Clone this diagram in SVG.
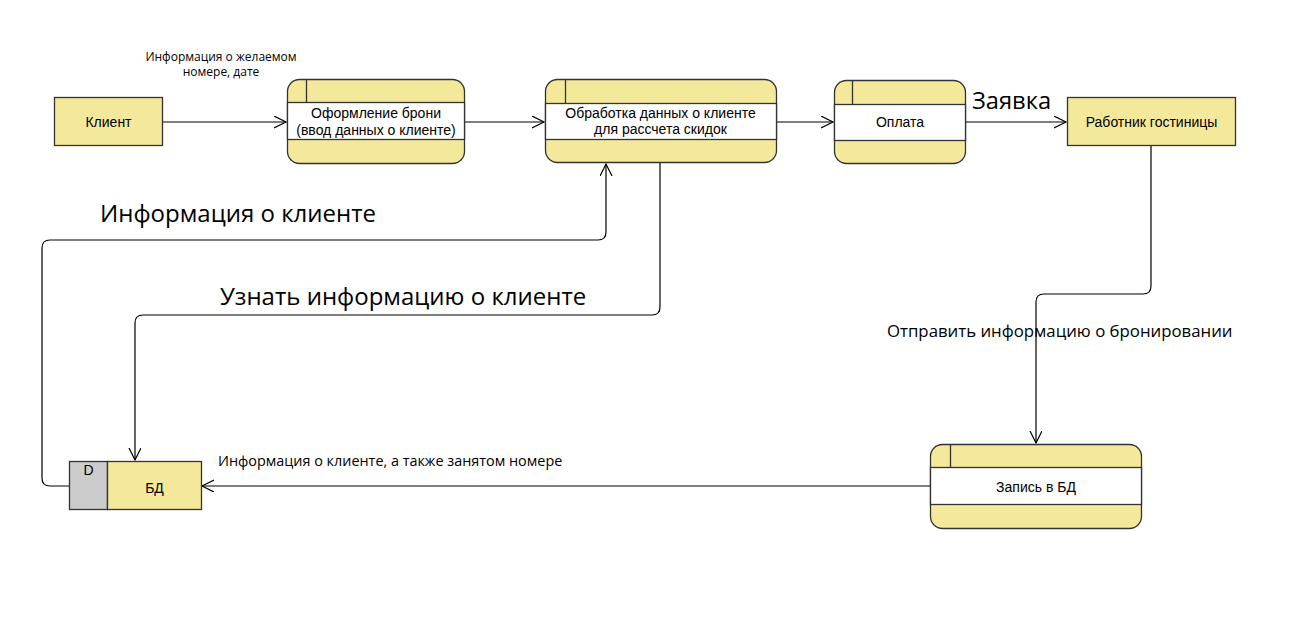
<svg xmlns="http://www.w3.org/2000/svg" width="1298" height="619" viewBox="0 0 1298 619">
<defs>
<style>
.box{fill:#f4e99b;stroke:#333;stroke-width:1.3}
.band{fill:#fff;stroke:#333;stroke-width:1.3}
.ln{fill:none;stroke:#333;stroke-width:1.3}
.nt{font-family:"Liberation Sans",Arial,sans-serif;font-size:14px;fill:#000;text-anchor:middle}
.conn{fill:none;stroke:#000;stroke-width:1.2}
.lb{font-family:"Open Sans","Noto Sans",sans-serif;fill:#000}
</style>
<marker id="open" markerWidth="14" markerHeight="14" refX="12" refY="6" orient="auto" markerUnits="userSpaceOnUse">
<path d="M0,0 L12,6 L0,12" fill="none" stroke="#000" stroke-width="1.2"/>
</marker>
</defs>
<rect width="1298" height="619" fill="#fff"/>

<g id="connectors">
<path class="conn" d="M162,122 H286" marker-end="url(#open)"/>
<path class="conn" d="M464,122 H544" marker-end="url(#open)"/>
<path class="conn" d="M776,122 H833" marker-end="url(#open)"/>
<path class="conn" d="M965,122 H1066" marker-end="url(#open)"/>
<path class="conn" d="M1151,145 V286 Q1151,294 1143,294 H1044 Q1036,294 1036,302 V443" marker-end="url(#open)"/>
<path class="conn" d="M930,486 H202" marker-end="url(#open)"/>
<path class="conn" d="M69,486 H50 Q42,486 42,478 V248 Q42,240 50,240 H598 Q606,240 606,232 V164" marker-end="url(#open)"/>
<path class="conn" d="M660,163 V307 Q660,315 652,315 H143 Q135,315 135,323 V460" marker-end="url(#open)"/>
</g>

<g id="labels">
<text class="lb" x="221" y="61" font-size="12" text-anchor="middle">Информация о желаемом</text>
<text class="lb" x="221" y="76" font-size="12" text-anchor="middle">номере, дате</text>
<text class="lb" x="972" y="109" font-size="23.7">Заявка</text>
<text class="lb" x="100" y="222" font-size="24">Информация о клиенте</text>
<text class="lb" x="220" y="305" font-size="24">Узнать информацию о клиенте</text>
<text class="lb" x="887" y="337" font-size="16.8">Отправить информацию о бронировании</text>
<text class="lb" x="218" y="466" font-size="14.4">Информация о клиенте, а также занятом номере</text>
</g>

<g id="klient">
<rect class="box" x="54.5" y="97.5" width="108" height="48"/>
<text class="nt" x="108.5" y="127">Клиент</text>
</g>

<g id="oformlenie">
<rect class="box" x="287.5" y="79.5" width="177" height="84" rx="12"/>
<rect class="band" x="287.5" y="102.5" width="177" height="37"/>
<line class="ln" x1="306.5" y1="79.5" x2="306.5" y2="102.5"/>
<text class="nt" x="376" y="118">Оформление брони</text>
<text class="nt" x="376" y="135">(ввод данных о клиенте)</text>
</g>

<g id="obrabotka">
<rect class="box" x="545.5" y="79.5" width="231" height="83" rx="12"/>
<rect class="band" x="545.5" y="103.5" width="231" height="36"/>
<line class="ln" x1="565.5" y1="79.5" x2="565.5" y2="103.5"/>
<text class="nt" x="660.5" y="118">Обработка данных о клиенте</text>
<text class="nt" x="660.5" y="134">для рассчета скидок</text>
</g>

<g id="oplata">
<rect class="box" x="834.5" y="80.5" width="131" height="83" rx="12"/>
<rect class="band" x="834.5" y="104.5" width="131" height="36"/>
<line class="ln" x1="852.5" y1="80.5" x2="852.5" y2="104.5"/>
<text class="nt" x="900" y="127">Оплата</text>
</g>

<g id="rabotnik">
<rect class="box" x="1067.5" y="97.5" width="168" height="48"/>
<text class="nt" x="1151.5" y="127">Работник гостиницы</text>
</g>

<g id="zapis">
<rect class="box" x="930.5" y="444.5" width="211" height="84" rx="12"/>
<rect class="band" x="930.5" y="467.5" width="211" height="37"/>
<line class="ln" x1="950.5" y1="444.5" x2="950.5" y2="467.5"/>
<text class="nt" x="1036" y="492">Запись в БД</text>
</g>

<g id="bd">
<rect x="69.5" y="461.5" width="38" height="48" fill="#cccccc" stroke="#333" stroke-width="1.3"/>
<rect class="box" x="107.5" y="461.5" width="94" height="48"/>
<text class="nt" x="88.5" y="475">D</text>
<text class="nt" x="154.5" y="493">БД</text>
</g>
</svg>
